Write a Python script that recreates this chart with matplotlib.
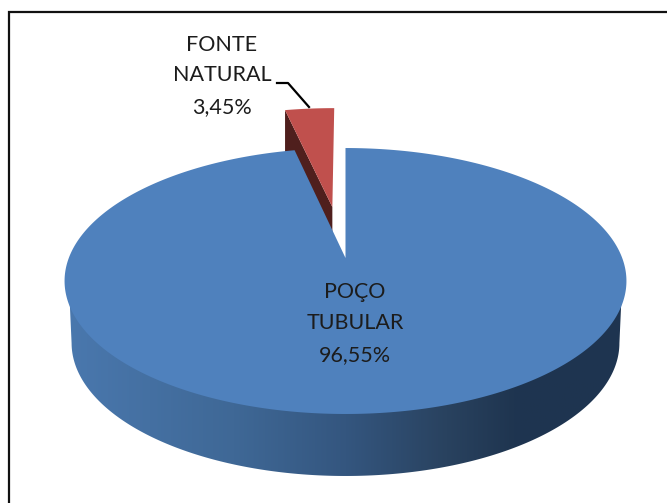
import numpy as np
import matplotlib
matplotlib.use("Agg")
import matplotlib.pyplot as plt
from matplotlib.colors import LinearSegmentedColormap
from matplotlib.patches import Polygon

categories = ["POÇO\nTUBULAR", "FONTE\nNATURAL"]
values = [96.55, 3.45]

W, H = 667, 503
CX, CY = 345.5, 258.0
R, K, C = 276.7, 129.0, 0.173
DEPTH, SHRINK = 62.0, 0.975
EXPLODE = (-0.051, 0.424)
RED_SCALE = 1.03
BLUE, RED, RED_DARK = "#4f81bd", "#c0504d", "#4f1f1d"
TEXT = "#1c1c1c"
plt.rcParams["font.family"] = ["Lato", "DejaVu Sans"]


def project(u, v):
    d = 1 + C * v
    return CX + R * u / d, CY - K * v / d


def lower(x, y):
    return CX + (x - CX) * SHRINK, y + DEPTH


fig = plt.figure(figsize=(W / 100, H / 100), dpi=100)
ax = fig.add_axes([0, 0, 1, 1])
ax.set_xlim(0, W)
ax.set_ylim(H, 0)
ax.axis("off")

ax.plot([8.5, 8.5, 667], [503, 12, 12], color="#111111", lw=1.6, zorder=1,
        solid_joinstyle="miter", solid_capstyle="butt")

fractions = np.array(values) / sum(values)
blue_sweep = 2 * np.pi * fractions[0]
red_sweep = 2 * np.pi * fractions[1]

# side wall of the large slice, shaded from left to right
t = np.linspace(0, 2 * np.pi, 721)
rx, ry = project(np.sin(t), np.cos(t))
i_r, i_l = np.argmax(rx), np.argmin(rx)
fx, fy = rx[i_r:i_l + 1], ry[i_r:i_l + 1]
lx, ly = lower(fx, fy)
# the wall's upper edge runs slightly beneath the top face so no seam shows
ux, uy = CX + (fx - CX) * 0.985, 281 + (fy - 281) * 0.985
wall = Polygon(np.r_[np.c_[ux, uy], np.c_[lx, ly][::-1]], closed=True, fc="none", ec="none")
ax.add_patch(wall)
cmap = LinearSegmentedColormap.from_list("wall", [
    (0.0, "#4a78ae"), (0.30, "#3f6896"), (0.50, "#34567f"),
    (0.68, "#29425f"), (0.80, "#1f3550"), (1.0, "#1e3450")])
img = ax.imshow(np.linspace(0, 1, 256)[None, :], cmap=cmap, aspect="auto",
                extent=(65, 627, 480, 280), zorder=2)
img.set_clip_path(wall)
ax.set_xlim(0, W)
ax.set_ylim(H, 0)

# exploded small slice: side first, then top
a = np.linspace(2 * np.pi - red_sweep, 2 * np.pi, 40)
ru = EXPLODE[0] + RED_SCALE * np.sin(a)
rv = EXPLODE[1] + RED_SCALE * np.cos(a)
sx, sy = project(ru, rv)
ax0, ay0 = project(EXPLODE[0], EXPLODE[1])
side = [(sx[0], sy[0]), (ax0, ay0), (ax0, ay0 + DEPTH), (sx[0], sy[0] + DEPTH)]
ax.add_patch(Polygon(side, closed=True, fc=RED_DARK, ec="none", zorder=3))
ax.add_patch(Polygon(np.r_[[(ax0, ay0)], np.c_[sx, sy]], closed=True, fc=RED, ec="none", zorder=4))

# large slice top
b = np.linspace(0, blue_sweep, 600)
bx, by = project(np.sin(b), np.cos(b))
ax.add_patch(Polygon(np.r_[[(CX, CY)], np.c_[bx, by]], closed=True, fc=BLUE, ec="none", zorder=5))

# labels
def label(x, ys, cat, val):
    lines = cat.split("\n") + [f"{val:.2f}%".replace(".", ",")]
    for y, s in zip(ys, lines):
        ax.text(x, y, s, ha="center", va="center", fontsize=15.5, color=TEXT, zorder=7)


label(355, [292, 323, 355], categories[0], values[0])
label(222, [45, 75, 107], categories[1], values[1])
ax.plot([277, 288, 309], [83, 83, 107], color="black", lw=1.6, zorder=6)

fig.savefig("out.png", dpi=100)
